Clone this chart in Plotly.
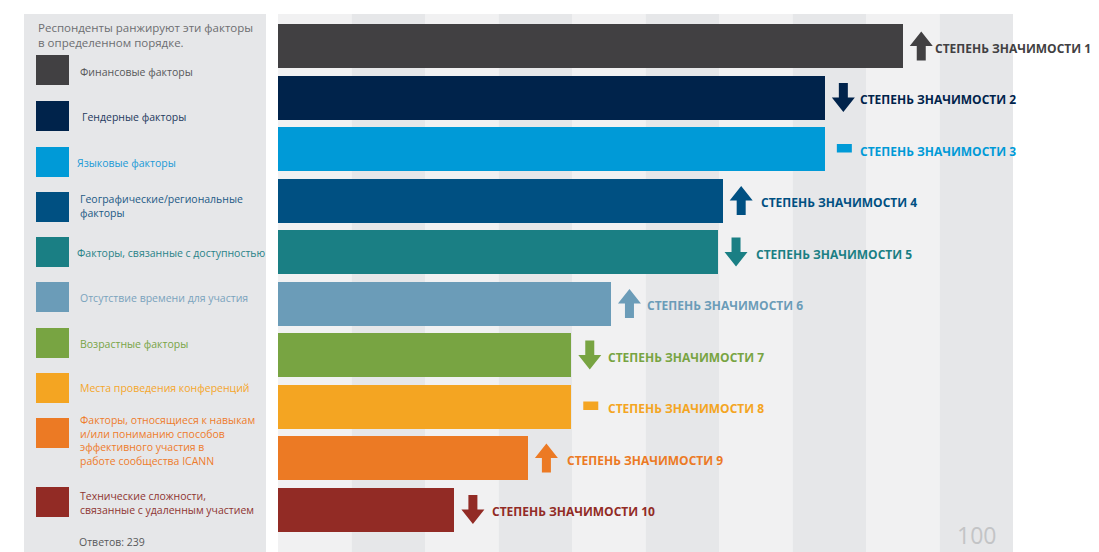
import plotly.graph_objects as go

W, H = 1099, 552

# ---------------- data ----------------
factors = [
    "Финансовые факторы",
    "Гендерные факторы",
    "Языковые факторы",
    "Географические/региональные<br>факторы",
    "Факторы, связанные с доступностью",
    "Отсутствие времени для участия",
    "Возрастные факторы",
    "Места проведения конференций",
    "Факторы, относящиеся к навыкам<br>и/или пониманию способов<br>эффективного участия в<br>работе сообщества ICANN",
    "Технические сложности,<br>связанные с удаленным участием",
]
scores = [85.0, 74.4, 74.4, 60.5, 59.8, 45.3, 39.9, 39.9, 34.0, 24.0]
rank_labels = ["СТЕПЕНЬ ЗНАЧИМОСТИ " + str(i) for i in range(1, 11)]
trend = ["up", "down", "flat", "up", "down", "up", "down", "flat", "up", "down"]
legend_title = "Респонденты ранжируют эти факторы<br>в определенном порядке."
responses_note = "Ответов: 239"
axis_max_label = "100"

# ---------------- styles ----------------
bar_colors = ["#414042", "#00234b", "#009ad7", "#005082", "#1a7f84",
              "#6b9cb8", "#78a442", "#f4a522", "#ec7a24", "#922b25"]
legend_text_colors = ["#58595b", "#1f3a5f", "#1b9ad6", "#1d5a86", "#2a8388",
                      "#7aa3bd", "#78a447", "#f5a62a", "#ee7c2c", "#8f3532"]
FONT = "Open Sans"

# layout constants in window pixels
plot_left, plot_right, plot_top = 278, 1013, 14
first_center, pitch = 32, 51.5          # px within plot area
plot_h = H - plot_top
y_top = -first_center / pitch
y_bot = 9 + (plot_h - first_center - 9 * pitch) / pitch
label_dx = [30, 33, 33, 36, 36, 34, 35, 35, 37, 36]


def px(x):
    return x / W


def py(y):
    return 1 - y / H


fig = go.Figure()
idx = list(range(len(scores)))
fig.add_trace(go.Bar(
    x=scores, y=idx, orientation="h", width=44 / pitch,
    marker=dict(color=bar_colors, line=dict(width=0)),
    hoverinfo="skip",
))

shapes = []
# background stripes
for i in range(10):
    shapes.append(dict(type="rect", xref="x", yref="paper", x0=i * 10, x1=(i + 1) * 10,
                       y0=0, y1=py(plot_top), fillcolor="#f1f1f2" if i % 2 == 0 else "#e6e7e9",
                       line=dict(width=0), layer="below"))
# legend panel
shapes.append(dict(type="rect", xref="paper", yref="paper", x0=px(24), x1=px(266),
                   y0=0, y1=py(14), fillcolor="#e6e7e9", line=dict(width=0), layer="below"))

# trend arrows (pixel-size glyphs anchored at bar ends)
up_path = "M 7,0 L 18.5,14.5 L 30,0 L 23,0 L 23,-14.5 L 14,-14.5 L 14,0 Z"
down_path = "M 7,0 L 18.5,-14.5 L 30,0 L 23,0 L 23,14.5 L 14,14.5 L 14,0 Z"
for i, (v, t) in enumerate(zip(scores, trend)):
    c = bar_colors[i]
    if t == "flat":
        shapes.append(dict(type="rect", xref="x", yref="y", xsizemode="pixel", ysizemode="pixel",
                           xanchor=v, yanchor=i, x0=12, x1=27, y0=-3.5, y1=5,
                           fillcolor=c, line=dict(width=0)))
    else:
        shapes.append(dict(type="path", xref="x", yref="y", xsizemode="pixel", ysizemode="pixel",
                           xanchor=v, yanchor=i, path=up_path if t == "up" else down_path,
                           fillcolor=c, line=dict(width=0)))

annotations = []
# rank labels
for i, (v, lab) in enumerate(zip(scores, rank_labels)):
    annotations.append(dict(x=v, y=i, xref="x", yref="y", xanchor="left", yanchor="middle",
                            xshift=label_dx[i], yshift=-2, text="<b>" + lab + "</b>",
                            showarrow=False,
                            font=dict(family=FONT, size=12, color=bar_colors[i])))

# legend
square_tops = [55, 101, 147, 192, 237, 282, 328, 373, 418, 487]
text_centers = [72, 117, 163, 206, 253, 298, 344, 388, 440, 503]
text_x = [78, 80, 75, 78, 75, 78, 78, 78, 78, 78]
for i, name in enumerate(factors):
    shapes.append(dict(type="rect", xref="paper", yref="paper", x0=px(36), x1=px(69),
                       y0=py(square_tops[i] + 30), y1=py(square_tops[i]),
                       fillcolor=bar_colors[i], line=dict(width=0)))
    annotations.append(dict(x=px(text_x[i]), y=py(text_centers[i]), xref="paper", yref="paper",
                            xanchor="left", yanchor="middle", align="left", text=name,
                            showarrow=False,
                            font=dict(family=FONT, size=10.5, color=legend_text_colors[i])))
annotations.append(dict(x=px(36), y=py(34.5), xref="paper", yref="paper", xanchor="left",
                        yanchor="middle", align="left", text=legend_title, showarrow=False,
                        font=dict(family=FONT, size=11.5, color="#6d6e71")))
annotations.append(dict(x=px(77), y=py(542), xref="paper", yref="paper", xanchor="left",
                        yanchor="middle", text=responses_note, showarrow=False,
                        font=dict(family=FONT, size=10.5, color="#58595b")))
annotations.append(dict(x=95, y=py(535), xref="x", yref="paper", xanchor="center",
                        yanchor="middle", text=axis_max_label, showarrow=False,
                        font=dict(family=FONT, size=23, color="#c3c4c6")))

fig.update_layout(
    width=W, height=H,
    margin=dict(l=0, r=0, t=0, b=0),
    paper_bgcolor="white", plot_bgcolor="white",
    showlegend=False,
    xaxis=dict(domain=[px(plot_left), px(plot_right)], range=[0, 100], visible=False,
               fixedrange=True),
    yaxis=dict(domain=[0, py(plot_top)], range=[y_bot, y_top], visible=False, fixedrange=True),
    shapes=shapes, annotations=annotations,
    bargap=0,
)
fig.write_html(
    "out.html",
    config={"displayModeBar": False},
    post_script="document.body.style.margin='0';document.body.style.overflow='hidden';",
)
